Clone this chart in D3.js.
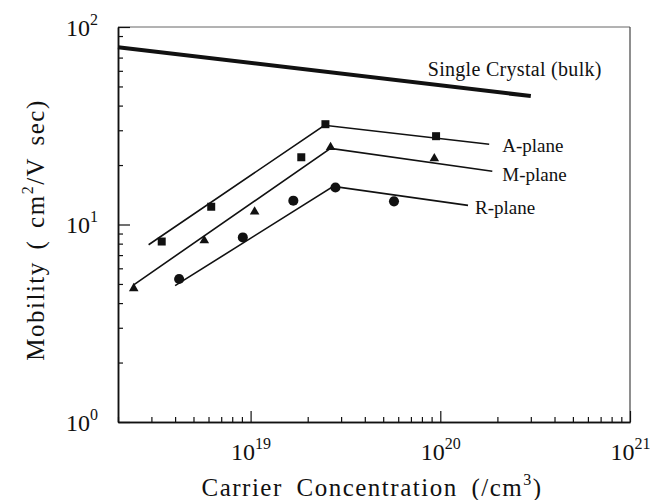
<!DOCTYPE html>
<html>
<head>
<meta charset="utf-8">
<script src="https://cdn.jsdelivr.net/npm/d3@7"></script>
<style>
  body { margin: 0; background: #fff; }
  svg text { font-family: "Liberation Serif", "Times New Roman", serif; fill: #111; }
</style>
</head>
<body>
<div id="chart"></div>
<script>
// carrier concentration (/cm3) and mobility (cm2/V sec)
var singleN = [2e18, 3.0e20]
var singleMu = [79, 44.7]

var aLineN = [2.9e18, 2.45e19, 1.81e20]
var aLineMu = [7.9, 31.8, 25.5]
var aN = [3.4e18, 6.2e18, 1.85e19, 2.48e19, 9.5e19]
var aMu = [8.2, 12.3, 21.9, 32.2, 28.0]

var mLineN = [2.42e18, 2.64e19, 1.88e20]
var mLineMu = [4.95, 24.3, 18.6]
var mN = [2.42e18, 5.7e18, 1.05e19, 2.64e19, 9.3e19]
var mMu = [4.75, 8.3, 11.6, 24.6, 21.6]

var rLineN = [4.0e18, 2.73e19, 1.4e20]
var rLineMu = [4.9, 15.6, 12.5]
var rN = [4.2e18, 9.1e18, 1.68e19, 2.8e19, 5.7e19]
var rMu = [5.3, 8.6, 13.2, 15.4, 13.1]

var xMajor = [1e19, 1e20, 1e21]
var yMajor = [1, 10, 100]
var xExp = ['19', '20', '21']
var yExp = ['0', '1', '2']

var width = 650
var height = 500
// plot box edges (named so they don't clash with window.top)
var plotLeft = 118, plotRight = 630, plotTop = 27, plotBottom = 422

var svg = d3.select('#chart')
  .append('svg')
  .attr('width', width)
  .attr('height', height)

var x = d3.scaleLog().domain([2e18, 1e21]).range([plotLeft, plotRight])
var y = d3.scaleLog().domain([1, 100]).range([plotBottom, plotTop])

// minor tick values: 2..9 in every decade that falls in the domain
function minorTicks(scale) {
  var d = scale.domain(), out = []
  var lo = Math.floor(Math.log10(d[0])), hi = Math.ceil(Math.log10(d[1]))
  for (var e = lo; e < hi; e++) {
    for (var m = 2; m <= 9; m++) {
      var v = m * Math.pow(10, e)
      if (v >= d[0] && v <= d[1]) out.push(v)
    }
  }
  return out
}

// frame: top and right are plain thin lines
svg.append('line')
  .attr('x1', plotLeft).attr('x2', plotRight).attr('y1', plotTop).attr('y2', plotTop)
  .attr('stroke', '#666').attr('stroke-width', 1)
svg.append('line')
  .attr('x1', plotRight).attr('x2', plotRight).attr('y1', plotTop).attr('y2', plotBottom)
  .attr('stroke', '#444').attr('stroke-width', 1.2)

// bottom axis, ticks pointing inward
var xMinorAxis = svg.append('g')
  .attr('transform', 'translate(0,' + plotBottom + ')')
  .call(d3.axisBottom(x).tickValues(minorTicks(x)).tickSize(-5).tickSizeOuter(0).tickFormat(''))
var xMajorAxis = svg.append('g')
  .attr('transform', 'translate(0,' + plotBottom + ')')
  .call(d3.axisBottom(x).tickValues(xMajor).tickSize(-11).tickSizeOuter(0).tickFormat(''))

// left axis, ticks pointing inward
var yMinorAxis = svg.append('g')
  .attr('transform', 'translate(' + plotLeft + ',0)')
  .call(d3.axisLeft(y).tickValues(minorTicks(y)).tickSize(-5).tickSizeOuter(0).tickFormat(''))
var yMajorAxis = svg.append('g')
  .attr('transform', 'translate(' + plotLeft + ',0)')
  .call(d3.axisLeft(y).tickValues(yMajor).tickSize(-12).tickSizeOuter(0).tickFormat(''))

svg.selectAll('.domain').attr('stroke', '#111').attr('stroke-width', 1.5)
svg.selectAll('.tick line').attr('stroke', '#111').attr('stroke-width', 1.2)

// powers-of-ten labels
xMajorAxis.selectAll('.tick').each(function (d, i) {
  var t = d3.select(this).append('text')
    .attr('y', 38)
    .attr('text-anchor', 'middle')
    .style('font-size', '24px')
    .attr('fill', '#111')
    .text('10')
  t.append('tspan').attr('dy', -11).style('font-size', '16px').text(xExp[i])
})
yMajorAxis.selectAll('.tick').each(function (d, i) {
  var t = d3.select(this).append('text')
    .attr('x', -20)
    .attr('y', 8)
    .attr('text-anchor', 'end')
    .style('font-size', '24px')
    .attr('fill', '#111')
    .text('10')
  t.append('tspan').attr('dy', -11).style('font-size', '16px').text(yExp[i])
})

var line = d3.line()
  .x(function (d) { return x(d[0]) })
  .y(function (d) { return y(d[1]) })

function pairs(ns, mus) {
  return ns.map(function (n, i) { return [n, mus[i]] })
}

// bulk single crystal curve
svg.append('path')
  .attr('d', line(pairs(singleN, singleMu)))
  .attr('fill', 'none')
  .attr('stroke', '#111')
  .attr('stroke-width', 4)

var series = [
  { lineN: aLineN, lineMu: aLineMu, n: aN, mu: aMu, shape: d3.symbolSquare, size: 64, label: 'A-plane', dx: 13, dy: 8 },
  { lineN: mLineN, lineMu: mLineMu, n: mN, mu: mMu, shape: d3.symbolTriangle, size: 40, label: 'M-plane', dx: 10, dy: 10 },
  { lineN: rLineN, lineMu: rLineMu, n: rN, mu: rMu, shape: d3.symbolCircle, size: 80, label: 'R-plane', dx: 7, dy: 9 }
]

series.forEach(function (s) {
  svg.append('path')
    .attr('d', line(pairs(s.lineN, s.lineMu)))
    .attr('fill', 'none')
    .attr('stroke', '#111')
    .attr('stroke-width', 1.6)

  svg.selectAll(null)
    .data(pairs(s.n, s.mu))
    .enter()
    .append('path')
    .attr('d', d3.symbol().type(s.shape).size(s.size))
    .attr('transform', function (d) { return 'translate(' + x(d[0]) + ',' + y(d[1]) + ')' })
    .attr('fill', '#111')

  var last = s.lineN.length - 1
  svg.append('text')
    .attr('x', x(s.lineN[last]) + s.dx)
    .attr('y', y(s.lineMu[last]) + s.dy)
    .style('font-size', '19px')
    .text(s.label)
})

svg.append('text')
  .attr('x', x(singleN[1]) + 71)
  .attr('y', y(singleMu[1]) - 20)
  .attr('text-anchor', 'end')
  .style('font-size', '20px')
  .style('letter-spacing', '0.3px')
  .text('Single Crystal (bulk)')

// axis titles
var xTitle = svg.append('text')
  .attr('x', 372)
  .attr('y', 496)
  .attr('text-anchor', 'middle')
  .style('font-size', '25px')
  .style('letter-spacing', '1.5px')
  .style('word-spacing', '6px')
  .text('Carrier Concentration (/cm')
xTitle.append('tspan').attr('dy', -11).style('font-size', '16px').text('3')
xTitle.append('tspan').attr('dy', 11).text(')')

var yTitle = svg.append('text')
  .attr('transform', 'translate(44,230) rotate(-90)')
  .attr('text-anchor', 'middle')
  .style('font-size', '25px')
  .style('letter-spacing', '1.5px')
  .style('word-spacing', '4px')
  .text('Mobility ( cm')
yTitle.append('tspan').attr('dy', -11).style('font-size', '16px').text('2')
yTitle.append('tspan').attr('dy', 11).text('/V sec)')
</script>
</body>
</html>
